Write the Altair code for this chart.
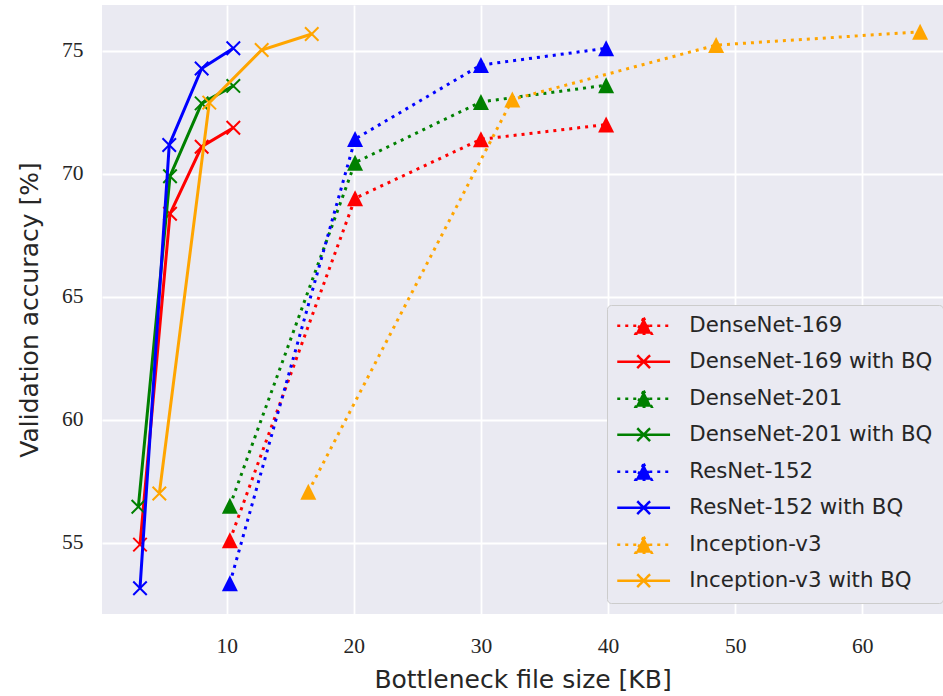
import altair as alt
import pandas as pd

# Series names, in drawing order, and their colours
series_names = [
    "DenseNet-169", "DenseNet-169 with BQ",
    "DenseNet-201", "DenseNet-201 with BQ",
    "ResNet-152", "ResNet-152 with BQ",
    "Inception-v3", "Inception-v3 with BQ",
]
series_colors = ["#FF0000", "#FF0000", "#008000", "#008000",
                 "#0000FF", "#0000FF", "#FFA500", "#FFA500"]

# Bottleneck file size [KB] and validation accuracy [%] per series
densenet169_kb = [10.25, 20.1, 30.0, 39.85]
densenet169_acc = [55.1, 69.0, 71.4, 72.0]
densenet169_bq_kb = [3.18, 5.54, 8.03, 10.52]
densenet169_bq_acc = [54.92, 68.37, 71.1, 71.87]

densenet201_kb = [10.25, 20.1, 30.0, 39.85]
densenet201_acc = [56.5, 70.45, 72.92, 73.6]
densenet201_bq_kb = [3.05, 5.54, 8.03, 10.52]
densenet201_bq_acc = [56.46, 69.9, 72.86, 73.57]

resnet152_kb = [10.25, 20.1, 30.0, 39.85]
resnet152_acc = [53.35, 71.41, 74.42, 75.1]
resnet152_bq_kb = [3.18, 5.48, 8.03, 10.52]
resnet152_bq_acc = [53.15, 71.17, 74.28, 75.1]

inception_kb = [16.42, 32.47, 48.5, 64.55]
inception_acc = [57.07, 73.02, 75.23, 75.77]
inception_bq_kb = [4.7, 8.63, 12.75, 16.69]
inception_bq_acc = [57.0, 72.89, 75.03, 75.68]

series_x = [densenet169_kb, densenet169_bq_kb, densenet201_kb, densenet201_bq_kb,
            resnet152_kb, resnet152_bq_kb, inception_kb, inception_bq_kb]
series_y = [densenet169_acc, densenet169_bq_acc, densenet201_acc, densenet201_bq_acc,
            resnet152_acc, resnet152_bq_acc, inception_acc, inception_bq_acc]

rows = []
for name, xs, ys in zip(series_names, series_x, series_y):
    for xv, yv in zip(xs, ys):
        rows.append({"series": name, "size": xv, "acc": yv})
df = pd.DataFrame(rows)

# Marker shapes (unit-square SVG paths)
TRI = "M0,-1L1,1L-1,1Z"
CROSS = "M-1,-1L1,1M-1,1L1,-1"
# Legend symbols: a short line segment with the marker in its middle
LEG_TRI = "M-3.3,0L3.3,0M0,-1L1,1L-1,1Z"
LEG_CROSS = "M-3.3,0L3.3,0M-0.8,-0.8L0.8,0.8M-0.8,0.8L0.8,-0.8"
legend_shapes = [LEG_CROSS if n.endswith("with BQ") else LEG_TRI for n in series_names]
legend_dashes = [[1, 0] if n.endswith("with BQ") else [3, 5] for n in series_names]

TEXT = "#262626"
SANS = "DejaVu Sans"
legend = alt.Legend(
    title=None,
    orient="none",
    legendX=505,
    legendY=300,
    padding=10,
    fillColor="#EAEAF2",
    strokeColor="#CCCCCC",
    cornerRadius=4,
    labelFont=SANS,
    labelFontSize=21.3,
    labelColor=TEXT,
    labelLimit=400,
    symbolSize=256,
    symbolStrokeWidth=2.5,
    symbolOpacity=1,
    symbolOffset=16,
    labelOffset=35,
    rowPadding=11,
)

x_axis = alt.Axis(
    values=[10, 20, 30, 40, 50, 60],
    grid=True, gridColor="white", gridWidth=1.8,
    domain=False, ticks=False,
    labelFont="Liberation Serif", labelFontSize=21.5, labelColor=TEXT, labelPadding=21,
    title="Bottleneck file size [KB]", titleFont=SANS, titleFontSize=25,
    titleFontWeight="normal", titleColor=TEXT, titlePadding=11,
)
y_axis = alt.Axis(
    values=[55, 60, 65, 70, 75],
    grid=True, gridColor="white", gridWidth=1.8,
    domain=False, ticks=False,
    labelFont="Liberation Serif", labelFontSize=21.5, labelColor=TEXT, labelPadding=19,
    title="Validation accuracy [%]", titleFont=SANS, titleFontSize=25,
    titleFontWeight="normal", titleColor=TEXT, titlePadding=19,
)

x_enc = alt.X("size:Q", scale=alt.Scale(domain=[0.19, 66.35], nice=False, zero=False), axis=x_axis)
y_enc = alt.Y("acc:Q", scale=alt.Scale(domain=[52.10, 76.86], nice=False, zero=False), axis=y_axis)

base = alt.Chart(df).encode(x=x_enc, y=y_enc)

# One line layer and one marker layer per series, in plotting order
layers = []
for name, col in zip(series_names, series_colors):
    sub = base.transform_filter(alt.datum.series == name)
    if name.endswith("with BQ"):
        layers.append(sub.mark_line(color=col, strokeWidth=3))
        layers.append(sub.mark_point(shape=CROSS, size=182, filled=False, color=col,
                                     strokeWidth=2, opacity=1))
    else:
        layers.append(sub.mark_line(color=col, strokeWidth=3, strokeDash=[3, 5]))
        layers.append(sub.mark_point(shape=TRI, size=256, filled=True, color=col,
                                     strokeWidth=0, opacity=1))

# Legend carrier: fully transparent marks, only defines the merged legend
legend_layer = alt.Chart(df).mark_point(opacity=0).encode(
    x=x_enc,
    y=y_enc,
    stroke=alt.Stroke("series:N", scale=alt.Scale(domain=series_names, range=series_colors),
                      sort=series_names, legend=legend),
    fill=alt.Fill("series:N", scale=alt.Scale(domain=series_names, range=series_colors),
                  sort=series_names, legend=legend),
    shape=alt.Shape("series:N", scale=alt.Scale(domain=series_names, range=legend_shapes),
                    sort=series_names, legend=legend),
    strokeDash=alt.StrokeDash("series:N", scale=alt.Scale(domain=series_names, range=legend_dashes),
                              sort=series_names, legend=legend),
)
layers.append(legend_layer)

chart = alt.layer(*layers).properties(
    width=841,
    height=609,
    autosize="none",
    padding={"left": 102, "top": 5, "right": 0, "bottom": 82},
    background="white",
).configure_view(fill="#EAEAF2", strokeWidth=0)

chart.save("out.html", embed_options={"renderer": "svg", "actions": False})
